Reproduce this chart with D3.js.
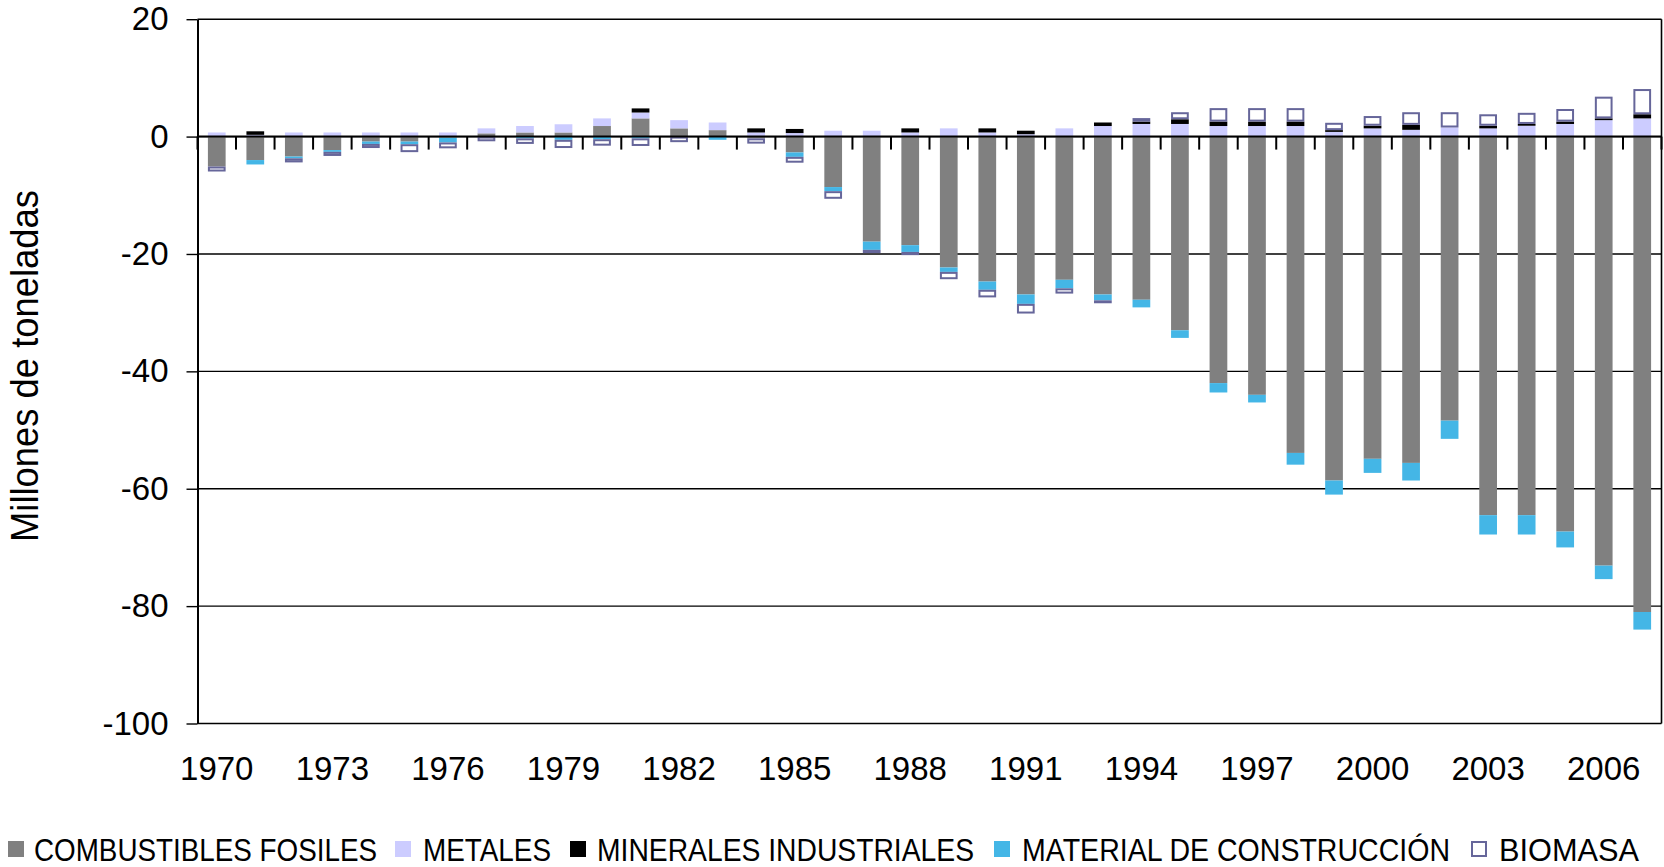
<!DOCTYPE html>
<html>
<head>
<meta charset="utf-8">
<script src="https://cdn.jsdelivr.net/npm/d3@7"></script>
<style>
  body { margin: 0; background: #fff; }
  svg { display: block; }
</style>
</head>
<body>
<div id="chart"></div>
<script>
// categories
var years = [1970, 1971, 1972, 1973, 1974, 1975, 1976, 1977, 1978, 1979,
             1980, 1981, 1982, 1983, 1984, 1985, 1986, 1987, 1988, 1989,
             1990, 1991, 1992, 1993, 1994, 1995, 1996, 1997, 1998, 1999,
             2000, 2001, 2002, 2003, 2004, 2005, 2006, 2007];

// series (millones de toneladas)
var fossil = [-5.1, -4.0, -3.4, -2.3, -0.85, -0.85, -0.2, 0.55, 0.7, 0.7,
              1.8, 3.1, 1.4, 1.1, -0.3, -2.7, -8.6, -17.9, -18.5, -22.3,
              -24.7, -26.9, -24.4, -26.9, -27.8, -33.0, -42.0, -44.0, -53.9, -58.6,
              -54.9, -55.6, -48.4, -64.5, -64.5, -67.3, -73.1, -81.0];
var metals = [0.7, 0.3, 0.7, 0.7, 0.7, 0.7, 0.7, 0.85, 1.1, 1.4,
              1.3, 1.0, 1.4, 1.3, 0.7, 0.6, 1.0, 1.0, 0.7, 1.4,
              0.7, 0.4, 1.4, 1.8, 2.15, 2.15, 1.8, 1.8, 1.8, 0.8,
              1.4, 1.15, 1.55, 1.4, 1.85, 2.15, 2.8, 3.1];
var minerals = [0, 0.6, 0, 0, 0, 0, 0, 0, 0, 0,
                0, 0.7, 0, 0, 0.7, 0.7, 0, 0, 0.7, 0,
                0.7, 0.6, 0, 0.6, 0.4, 0.8, 0.75, 0.75, 0.75, 0.3,
                0.45, 0.85, 0, 0.45, 0.3, 0.4, 0.3, 0.7];
var construction = [0, -0.75, -0.3, -0.3, -0.4, -0.45, -0.8, 0, -0.3, -0.55,
                    -0.45, -0.3, 0, -0.55, 0, -0.75, -0.7, -1.4, -1.15, -0.75,
                    -1.4, -1.6, -1.45, -1.0, -1.3, -1.3, -1.6, -1.3, -2.0, -2.4,
                    -2.4, -3.0, -3.1, -3.3, -3.3, -2.7, -2.3, -3.0];
var biomass = [-0.85, 0, -0.7, -0.7, -0.7, -1.35, -1.0, -0.8, -0.95, -1.4,
               -1.1, -1.3, -0.95, 0, -0.9, -1.0, -1.3, -0.55, -0.55, -1.25,
               -1.3, -1.65, -0.9, -0.5, 0.6, 1.2, 2.3, 2.3, 2.3, 1.25,
               1.65, 2.15, 2.6, 1.95, 1.9, 2.15, 3.7, 4.3];

// tick labels
var yTicks = [20, 0, -20, -40, -60, -80, -100];
var xLabelYears = [1970, 1973, 1976, 1979, 1982, 1985, 1988, 1991, 1994, 1997, 2000, 2003, 2006];

var seriesNames = ["COMBUSTIBLES FOSILES", "METALES", "MINERALES INDUSTRIALES",
                   "MATERIAL DE CONSTRUCCIÓN", "BIOMASA"];

//------------------------------------------------------------------------------------->

var keys = ["fossil", "metals", "minerals", "construction", "biomass"];
var fills = { fossil: "#808080", metals: "#ccccff", minerals: "#000000", construction: "#44b6e6", biomass: "#ffffff" };
var biomassStroke = "#66669a";

var W = 1664, H = 867;
var margin = { top: 19.2, right: 2.5, bottom: 143.5, left: 197.5 },
    width = W - margin.left - margin.right,
    height = H - margin.top - margin.bottom;

var rows = years.map(function (yr, i) {
    return { year: yr, fossil: fossil[i], metals: metals[i], minerals: minerals[i],
             construction: construction[i], biomass: biomass[i] };
});

var x = d3.scaleBand().domain(years).range([0, width]).paddingInner(0.54).paddingOuter(0.27);
var y = d3.scaleLinear().domain([-100, 20]).range([height, 0]);

var svg = d3.select("#chart").append("svg")
    .attr("width", W)
    .attr("height", H)
    .append("g")
    .attr("transform", "translate(" + margin.left + "," + margin.top + ")");

// horizontal grid
svg.append("g")
    .selectAll("line")
    .data(yTicks)
    .enter().append("line")
    .attr("x1", 0).attr("x2", width)
    .attr("y1", function (d) { return y(d); })
    .attr("y2", function (d) { return y(d); })
    .attr("stroke", "#000")
    .attr("stroke-width", 1.4);

// stacked bars, positives up and negatives down
var stacked = d3.stack().keys(keys).offset(d3.stackOffsetDiverging)(rows);

stacked.forEach(function (layer) {
    var isBio = layer.key === "biomass";
    svg.append("g")
        .attr("class", "layer-" + layer.key)
        .selectAll("rect")
        .data(layer.filter(function (d) { return d[1] !== d[0]; }))
        .enter().append("rect")
        .attr("x", function (d) { return x(d.data.year) + (isBio ? 1 : 0); })
        .attr("width", x.bandwidth() - (isBio ? 2 : 0))
        .attr("y", function (d) { return y(Math.max(d[0], d[1])) + (isBio ? 1 : 0); })
        .attr("height", function (d) {
            var h = Math.abs(y(d[0]) - y(d[1]));
            return isBio ? Math.max(0, h - 2) : h;
        })
        .attr("fill", fills[layer.key])
        .attr("stroke", isBio ? biomassStroke : "none")
        .attr("stroke-width", isBio ? 2 : 0);
});

// category axis crossing at zero, ticks between categories
var gap = (x.step() - x.bandwidth()) / 2;
var bounds = years.map(function (d) { return x(d) - gap; }).concat([width]);

svg.append("line")
    .attr("x1", 0).attr("x2", width)
    .attr("y1", y(0)).attr("y2", y(0))
    .attr("stroke", "#000").attr("stroke-width", 2);

svg.append("g")
    .selectAll("line")
    .data(bounds)
    .enter().append("line")
    .attr("x1", function (d) { return d; })
    .attr("x2", function (d) { return d; })
    .attr("y1", y(0)).attr("y2", y(0) + 13)
    .attr("stroke", "#000").attr("stroke-width", 2);

// year labels at the bottom
svg.append("g")
    .selectAll("text")
    .data(xLabelYears)
    .enter().append("text")
    .attr("x", function (d) { return x(d) + x.bandwidth() / 2; })
    .attr("y", 780 - margin.top)
    .attr("text-anchor", "middle")
    .style("font-family", "'Liberation Sans', Arial, sans-serif")
    .style("font-size", "33px")
    .style("fill", "#000")
    .text(String);

// value axis (plain hyphen for negatives, like the original)
var yAxis = svg.append("g")
    .call(d3.axisLeft(y).tickValues(yTicks).tickFormat(String)
        .tickSize(11).tickSizeOuter(0).tickPadding(18));
yAxis.select(".domain").attr("stroke", "#000").attr("stroke-width", 2);
yAxis.selectAll(".tick line").attr("stroke", "#000").attr("stroke-width", 1.4);
yAxis.selectAll(".tick text")
    .style("font-family", "'Liberation Sans', Arial, sans-serif")
    .style("font-size", "33px")
    .style("fill", "#000");

// right frame
svg.append("line")
    .attr("x1", width).attr("x2", width)
    .attr("y1", 0).attr("y2", height)
    .attr("stroke", "#000").attr("stroke-width", 1.6);

// axis title
d3.select("#chart svg").append("text")
    .attr("transform", "translate(38,366) rotate(-90)")
    .attr("text-anchor", "middle")
    .attr("textLength", 352)
    .attr("lengthAdjust", "spacingAndGlyphs")
    .style("font-family", "'Liberation Sans', Arial, sans-serif")
    .style("font-size", "39px")
    .style("fill", "#000")
    .text("Millones de toneladas");

//------------------------------------------------------------------------------------->

// legend
var legendPos = [
    { sq: 8, tx: 34, tw: 343 },
    { sq: 395, tx: 423, tw: 128 },
    { sq: 570, tx: 597, tw: 377 },
    { sq: 994, tx: 1022, tw: 428 },
    { sq: 1471, tx: 1499, tw: 140 }
];

var legend = d3.select("#chart svg").append("g")
    .selectAll("g")
    .data(keys)
    .enter().append("g");

legend.append("rect")
    .attr("x", function (d, i) { return legendPos[i].sq + (d === "biomass" ? 1 : 0); })
    .attr("y", function (d) { return 841 + (d === "biomass" ? 1 : 0); })
    .attr("width", function (d) { return d === "biomass" ? 14 : 16; })
    .attr("height", function (d) { return d === "biomass" ? 14 : 16; })
    .attr("fill", function (d) { return fills[d]; })
    .attr("stroke", function (d) { return d === "biomass" ? biomassStroke : "none"; })
    .attr("stroke-width", 2);

legend.append("text")
    .attr("x", function (d, i) { return legendPos[i].tx; })
    .attr("y", 861)
    .attr("textLength", function (d, i) { return legendPos[i].tw; })
    .attr("lengthAdjust", "spacingAndGlyphs")
    .style("font-family", "'Liberation Sans', Arial, sans-serif")
    .style("font-size", "32px")
    .style("fill", "#000")
    .text(function (d, i) { return seriesNames[i]; });
</script>
</body>
</html>
